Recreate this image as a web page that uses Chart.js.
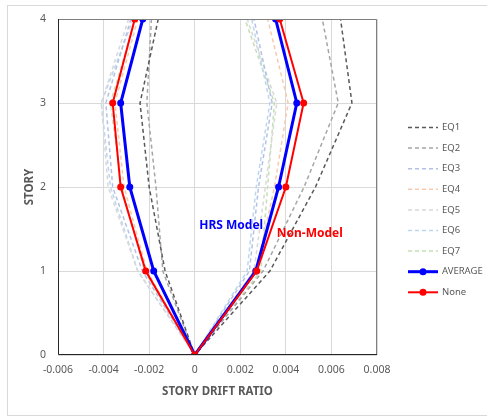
<!DOCTYPE html>
<html>
<head>
<meta charset="utf-8">
<script src="https://cdn.jsdelivr.net/npm/chart.js@4"></script>
<style>
  body { margin: 0; background: #fff; }
  canvas { display: block; }
</style>
</head>
<body>
<canvas id="drift-chart" width="487" height="416"></canvas>
<script>
// story levels walked down the negative side and back up the positive side
const stories = [4, 3, 2, 1, 0, 1, 2, 3, 4];
const eq1 = [-0.0016, -0.0024, -0.0020, -0.0013, 0, 0.0033, 0.0053, 0.0069, 0.0064];
const eq2 = [-0.0019, -0.0021, -0.0017, -0.0014, 0, 0.0030, 0.0048, 0.0063, 0.0056];
const eq3 = [-0.0028, -0.0039, -0.0036, -0.0023, 0, 0.0024, 0.0028, 0.0034, 0.0026];
const eq4 = [-0.0025, -0.0035, -0.0031, -0.0021, 0, 0.0027, 0.0035, 0.0041, 0.0032];
const eq5 = [-0.0029, -0.0041, -0.0038, -0.0025, 0, 0.0026, 0.0031, 0.0036, 0.0023];
const eq6 = [-0.0027, -0.0041, -0.0037, -0.0025, 0, 0.0023, 0.0027, 0.0033, 0.0025];
const eq7 = [-0.0026, -0.0037, -0.0032, -0.0022, 0, 0.0029, 0.0032, 0.0035, 0.0022];
const average = [-0.00228, -0.00325, -0.00285, -0.0018, 0, 0.00268, 0.00368, 0.00448, 0.00355];
const noneModel = [-0.00263, -0.0036, -0.00325, -0.00215, 0, 0.00272, 0.004, 0.00478, 0.00373];
const xTicks = [-0.006, -0.004, -0.002, 0, 0.002, 0.004, 0.006, 0.008];
const yTicks = [0, 1, 2, 3, 4];
const notes = [
  { text: "HRS Model", x: 0.0016, y: 1.54, color: "#0000ff" },
  { text: "Non-Model", x: 0.00505, y: 1.44, color: "#ff0000" },
];

const FONT = "'Noto Sans', sans-serif";
const GREY_TEXT = "#595959";

function pts(xs) {
  return xs.map((x, i) => ({ x: x, y: stories[i] }));
}

function eqSet(label, xs, color) {
  return {
    label: label,
    data: pts(xs),
    borderColor: color,
    backgroundColor: color,
    borderWidth: 1.5,
    borderDash: [4, 3],
    pointRadius: 0,
    showLine: true,
    order: 5,
  };
}

const datasets = [
  eqSet("EQ1", eq1, "#595959"),
  eqSet("EQ2", eq2, "#a5a5a5"),
  eqSet("EQ3", eq3, "#b4c0e6"),
  eqSet("EQ4", eq4, "#f8cbad"),
  eqSet("EQ5", eq5, "#d9d9d9"),
  eqSet("EQ6", eq6, "#bdd7ee"),
  eqSet("EQ7", eq7, "#c5e0b4"),
  {
    label: "AVERAGE",
    data: pts(average),
    borderColor: "#0000ff",
    backgroundColor: "#0000ff",
    borderWidth: 3,
    pointRadius: 3.5,
    pointBorderWidth: 0,
    showLine: true,
    order: 2,
  },
  {
    label: "None",
    data: pts(noneModel),
    borderColor: "#ff0000",
    backgroundColor: "#ff0000",
    borderWidth: 2,
    pointRadius: 3.5,
    pointBorderWidth: 0,
    showLine: true,
    order: 1,
  },
];

// outer frame and plot frame, like the spreadsheet chart
const frames = {
  id: "frames",
  beforeDraw(chart) {
    const c = chart.ctx;
    c.save();
    c.fillStyle = "#fff";
    c.fillRect(0, 0, chart.width, chart.height);
    c.strokeStyle = "#d9d9d9";
    c.lineWidth = 1;
    c.strokeRect(7.5, 5.5, chart.width, 410);
    c.restore();
  },
  afterDatasetsDraw(chart) {
    const a = chart.chartArea;
    const c = chart.ctx;
    c.save();
    c.lineWidth = 1;
    c.strokeStyle = "#7f7f7f";
    c.beginPath();
    c.moveTo(a.left, a.top + 0.5);
    c.lineTo(a.right - 0.5, a.top + 0.5);
    c.lineTo(a.right - 0.5, a.bottom);
    c.stroke();
    c.strokeStyle = "#262626";
    c.beginPath();
    c.moveTo(a.left + 0.5, a.top);
    c.lineTo(a.left + 0.5, a.bottom - 0.5);
    c.lineTo(a.right, a.bottom - 0.5);
    c.stroke();
    c.restore();
  },
};

const labels = {
  id: "labels",
  afterDraw(chart) {
    const c = chart.ctx;
    const xs = chart.scales.x;
    const ys = chart.scales.y;
    c.save();
    c.font = "bold 12px " + FONT;
    c.textBaseline = "middle";
    c.textAlign = "center";
    notes.forEach((n) => {
      c.fillStyle = n.color;
      c.fillText(n.text, xs.getPixelForValue(n.x), ys.getPixelForValue(n.y));
    });

    // legend on the right
    c.font = "9.5px " + FONT;
    c.textAlign = "left";
    chart.data.datasets.forEach((ds, i) => {
      const y = 127.5 + i * 20.6;
      c.strokeStyle = ds.borderColor;
      c.lineWidth = ds.borderWidth;
      c.setLineDash(ds.borderDash || []);
      c.beginPath();
      c.moveTo(408, y);
      c.lineTo(438, y);
      c.stroke();
      c.setLineDash([]);
      if (ds.pointRadius) {
        c.fillStyle = ds.backgroundColor;
        c.beginPath();
        c.arc(423, y, ds.pointRadius, 0, Math.PI * 2);
        c.fill();
      }
      c.fillStyle = GREY_TEXT;
      c.fillText(ds.label, 442, y);
    });
    c.restore();
  },
};

new Chart(document.getElementById("drift-chart").getContext("2d"), {
  type: "scatter",
  data: { datasets: datasets },
  options: {
    responsive: false,
    animation: false,
    layout: { padding: { top: 19, right: 110, left: 0, bottom: 0 } },
    plugins: {
      legend: { display: false },
      tooltip: { enabled: false },
    },
    scales: {
      x: {
        type: "linear",
        min: xTicks[0],
        max: xTicks[xTicks.length - 1],
        afterBuildTicks(s) {
          s.ticks = xTicks.map((v) => ({ value: v }));
        },
        afterFit(s) {
          s.height = 61;
        },
        ticks: {
          padding: 9,
          color: GREY_TEXT,
          font: { family: FONT, size: 10.5 },
          callback: (v) => (Math.abs(v) < 1e-9 ? "0" : v.toFixed(3)),
        },
        grid: { color: "#d9d9d9", drawTicks: false },
        border: { display: false },
        title: {
          display: true,
          text: "STORY DRIFT RATIO",
          color: GREY_TEXT,
          font: { family: FONT, size: 11.5, weight: "bold" },
          padding: { top: 0, bottom: 17 },
        },
      },
      y: {
        type: "linear",
        min: yTicks[0],
        max: yTicks[yTicks.length - 1],
        afterBuildTicks(s) {
          s.ticks = yTicks.map((v) => ({ value: v }));
        },
        afterFit(s) {
          s.width = 58;
        },
        ticks: {
          padding: 12,
          color: GREY_TEXT,
          font: { family: FONT, size: 10.5 },
        },
        grid: { color: "#d9d9d9", drawTicks: false },
        border: { display: false },
        title: {
          display: true,
          text: "STORY",
          color: GREY_TEXT,
          font: { family: FONT, size: 11.5, weight: "bold" },
          padding: { top: 23, bottom: 0 },
        },
      },
    },
  },
  plugins: [frames, labels],
});
</script>
</body>
</html>
